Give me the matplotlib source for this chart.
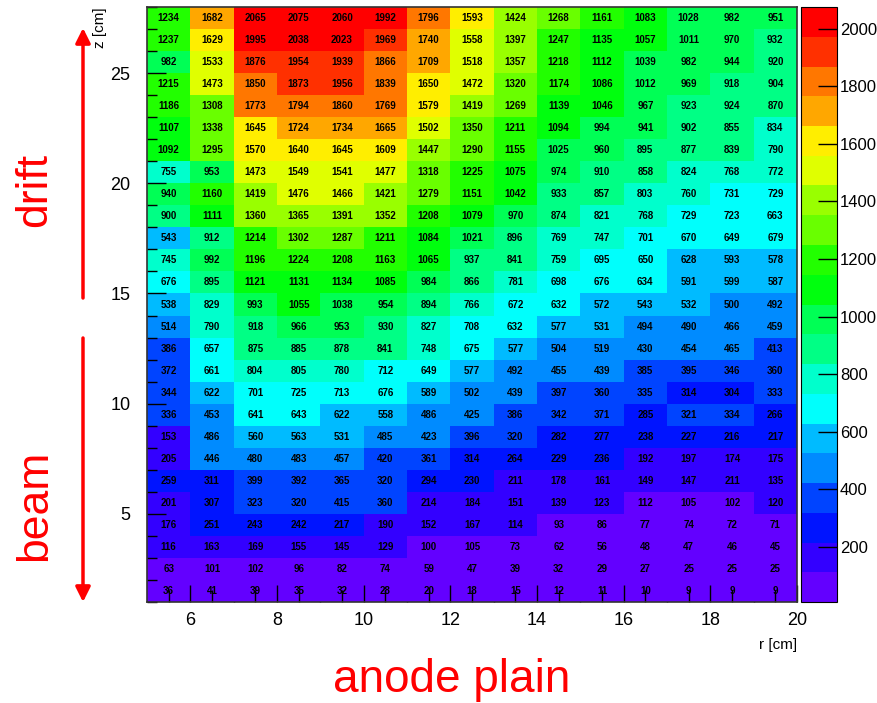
import colorsys

import numpy as np
import matplotlib
matplotlib.use("Agg")
import matplotlib.pyplot as plt
from matplotlib.colors import ListedColormap, BoundaryNorm
from matplotlib.ticker import MultipleLocator, FixedLocator

# bin edges of the 2D histogram
r_edges = np.arange(5, 21)   # r [cm], 15 bins
z_edges = np.arange(1, 29)   # z [cm], 27 bins

# bin contents, rows from top (z = 27..28) to bottom (z = 1..2)
counts_top_down = [
    [1234, 1682, 2065, 2075, 2060, 1992, 1796, 1593, 1424, 1268, 1161, 1083, 1028, 982, 951],
    [1237, 1629, 1995, 2038, 2023, 1969, 1740, 1558, 1397, 1247, 1135, 1057, 1011, 970, 932],
    [982, 1533, 1876, 1954, 1939, 1866, 1709, 1518, 1357, 1218, 1112, 1039, 982, 944, 920],
    [1215, 1473, 1850, 1873, 1956, 1839, 1650, 1472, 1320, 1174, 1086, 1012, 969, 918, 904],
    [1186, 1308, 1773, 1794, 1860, 1769, 1579, 1419, 1269, 1139, 1046, 967, 923, 924, 870],
    [1107, 1338, 1645, 1724, 1734, 1665, 1502, 1350, 1211, 1094, 994, 941, 902, 855, 834],
    [1092, 1295, 1570, 1640, 1645, 1609, 1447, 1290, 1155, 1025, 960, 895, 877, 839, 790],
    [755, 953, 1473, 1549, 1541, 1477, 1318, 1225, 1075, 974, 910, 858, 824, 768, 772],
    [940, 1160, 1419, 1476, 1466, 1421, 1279, 1151, 1042, 933, 857, 803, 760, 731, 729],
    [900, 1111, 1360, 1365, 1391, 1352, 1208, 1079, 970, 874, 821, 768, 729, 723, 663],
    [543, 912, 1214, 1302, 1287, 1211, 1084, 1021, 896, 769, 747, 701, 670, 649, 679],
    [745, 992, 1196, 1224, 1208, 1163, 1065, 937, 841, 759, 695, 650, 628, 593, 578],
    [676, 895, 1121, 1131, 1134, 1085, 984, 866, 781, 698, 676, 634, 591, 599, 587],
    [538, 829, 993, 1055, 1038, 954, 894, 766, 672, 632, 572, 543, 532, 500, 492],
    [514, 790, 918, 966, 953, 930, 827, 708, 632, 577, 531, 494, 490, 466, 459],
    [386, 657, 875, 885, 878, 841, 748, 675, 577, 504, 519, 430, 454, 465, 413],
    [372, 661, 804, 805, 780, 712, 649, 577, 492, 455, 439, 385, 395, 346, 360],
    [344, 622, 701, 725, 713, 676, 589, 502, 439, 397, 360, 335, 314, 304, 333],
    [336, 453, 641, 643, 622, 558, 486, 425, 386, 342, 371, 285, 321, 334, 266],
    [153, 486, 560, 563, 531, 485, 423, 396, 320, 282, 277, 238, 227, 216, 217],
    [205, 446, 480, 483, 457, 420, 361, 314, 264, 229, 236, 192, 197, 174, 175],
    [259, 311, 399, 392, 365, 320, 294, 230, 211, 178, 161, 149, 147, 211, 135],
    [201, 307, 323, 320, 415, 360, 214, 184, 151, 139, 123, 112, 105, 102, 120],
    [176, 251, 243, 242, 217, 190, 152, 167, 114, 93, 86, 77, 74, 72, 71],
    [116, 163, 169, 155, 145, 129, 100, 105, 73, 62, 56, 48, 47, 46, 45],
    [63, 101, 102, 96, 82, 74, 59, 47, 39, 32, 29, 27, 25, 25, 25],
    [36, 41, 39, 35, 32, 28, 20, 18, 15, 12, 11, 10, 9, 9, 9],
]

cbar_ticks = list(range(200, 2001, 200))
n_levels = 20

ARIAL = ["Liberation Sans", "DejaVu Sans"]


def root_palette(nlev, ncol=50):
    """ROOT 'pretty' palette (violet -> red), picked per contour level"""
    pretty = [colorsys.hls_to_rgb((280 - (i + 1) * 280 / ncol) / 360, 0.5, 1.0)
              for i in range(ncol)]
    return [pretty[int((j + 0.99) * ncol / nlev)] for j in range(nlev)]


counts = np.flipud(np.array(counts_top_down))
levels = np.linspace(counts.min(), counts.max(), n_levels + 1)
cmap = ListedColormap(root_palette(n_levels))
norm = BoundaryNorm(levels, cmap.N)

fig = plt.figure(figsize=(8.77, 7.03), dpi=100)
W, H = 877, 703
ax = fig.add_axes([147 / W, 1 - 602 / H, 650 / W, 595 / H])
cax = fig.add_axes([801 / W, 1 - 602 / H, 36 / W, 595 / H])

mesh = ax.pcolormesh(r_edges, z_edges, counts, cmap=cmap, norm=norm,
                     linewidth=0, antialiased=False)

rc = (r_edges[:-1] + r_edges[1:]) / 2
zc = (z_edges[:-1] + z_edges[1:]) / 2
for iz, z in enumerate(zc):
    for ir, r in enumerate(rc):
        ax.text(r, z, str(counts[iz, ir]), ha="center", va="center",
                fontsize=7, fontweight="bold", family=ARIAL, color="black")

ax.set_xlim(r_edges[0], r_edges[-1])
ax.set_ylim(z_edges[0], z_edges[-1])

# ROOT style ticks: inside, only bottom/left
ax.xaxis.set_major_locator(MultipleLocator(2))
ax.xaxis.set_minor_locator(FixedLocator(np.arange(5.5, 20, 1.0)))
ax.yaxis.set_major_locator(MultipleLocator(5))
ax.yaxis.set_minor_locator(MultipleLocator(1))
ax.tick_params(axis="x", which="major", direction="in", length=12, width=1, pad=7)
ax.tick_params(axis="x", which="minor", direction="in", length=9, width=1)
ax.tick_params(axis="y", which="major", direction="in", length=14, width=1, pad=12)
ax.tick_params(axis="y", which="minor", direction="in", length=7, width=1)
for lab in ax.get_xticklabels() + ax.get_yticklabels():
    lab.set_family(ARIAL)
    lab.set_fontsize(13)

sec = ax.secondary_xaxis("bottom")
sec.set_xticks(np.arange(7, 20, 2))
sec.set_xticklabels([])
sec.tick_params(direction="in", length=5, width=1)
sec.spines["bottom"].set_visible(False)

for sp in ax.spines.values():
    sp.set_linewidth(1.2)
    sp.set_color("#333333")

ax.text(-0.072, 1.0, "z [cm]", transform=ax.transAxes, rotation=90,
        ha="center", va="top", fontsize=11, family=ARIAL)
ax.text(1.0, -0.072, "r [cm]", transform=ax.transAxes,
        ha="right", va="center", fontsize=11, family=ARIAL)

cb = fig.colorbar(mesh, cax=cax, ticks=cbar_ticks, spacing="proportional")
cb.outline.set_linewidth(0.8)
cax.yaxis.set_ticks_position("right")
cax.tick_params(direction="in", length=14, width=1, pad=2)
for lab in cax.get_yticklabels():
    lab.set_family(ARIAL)
    lab.set_fontsize(12)
cax.minorticks_off()

# red annotations
fig.text(35 / W, 1 - 190 / H, "drift", rotation=90, ha="center", va="center",
         color="red", fontsize=32, family=ARIAL)
fig.text(35 / W, 1 - 505 / H, "beam", rotation=90, ha="center", va="center",
         color="red", fontsize=32, family=ARIAL)
fig.text(452 / W, 1 - 680 / H, "anode plain", ha="center", va="center",
         color="red", fontsize=33, family=ARIAL)

arrow = dict(arrowstyle="-|>", color="red", lw=2.5, mutation_scale=22,
             shrinkA=0, shrinkB=0)
ax.annotate("", xy=(83 / W, 1 - 28 / H), xytext=(83 / W, 1 - 298 / H),
            xycoords="figure fraction", textcoords="figure fraction",
            arrowprops=arrow, annotation_clip=False)
ax.annotate("", xy=(83 / W, 1 - 602 / H), xytext=(83 / W, 1 - 338 / H),
            xycoords="figure fraction", textcoords="figure fraction",
            arrowprops=arrow, annotation_clip=False)

fig.savefig("out.png", dpi=100)
